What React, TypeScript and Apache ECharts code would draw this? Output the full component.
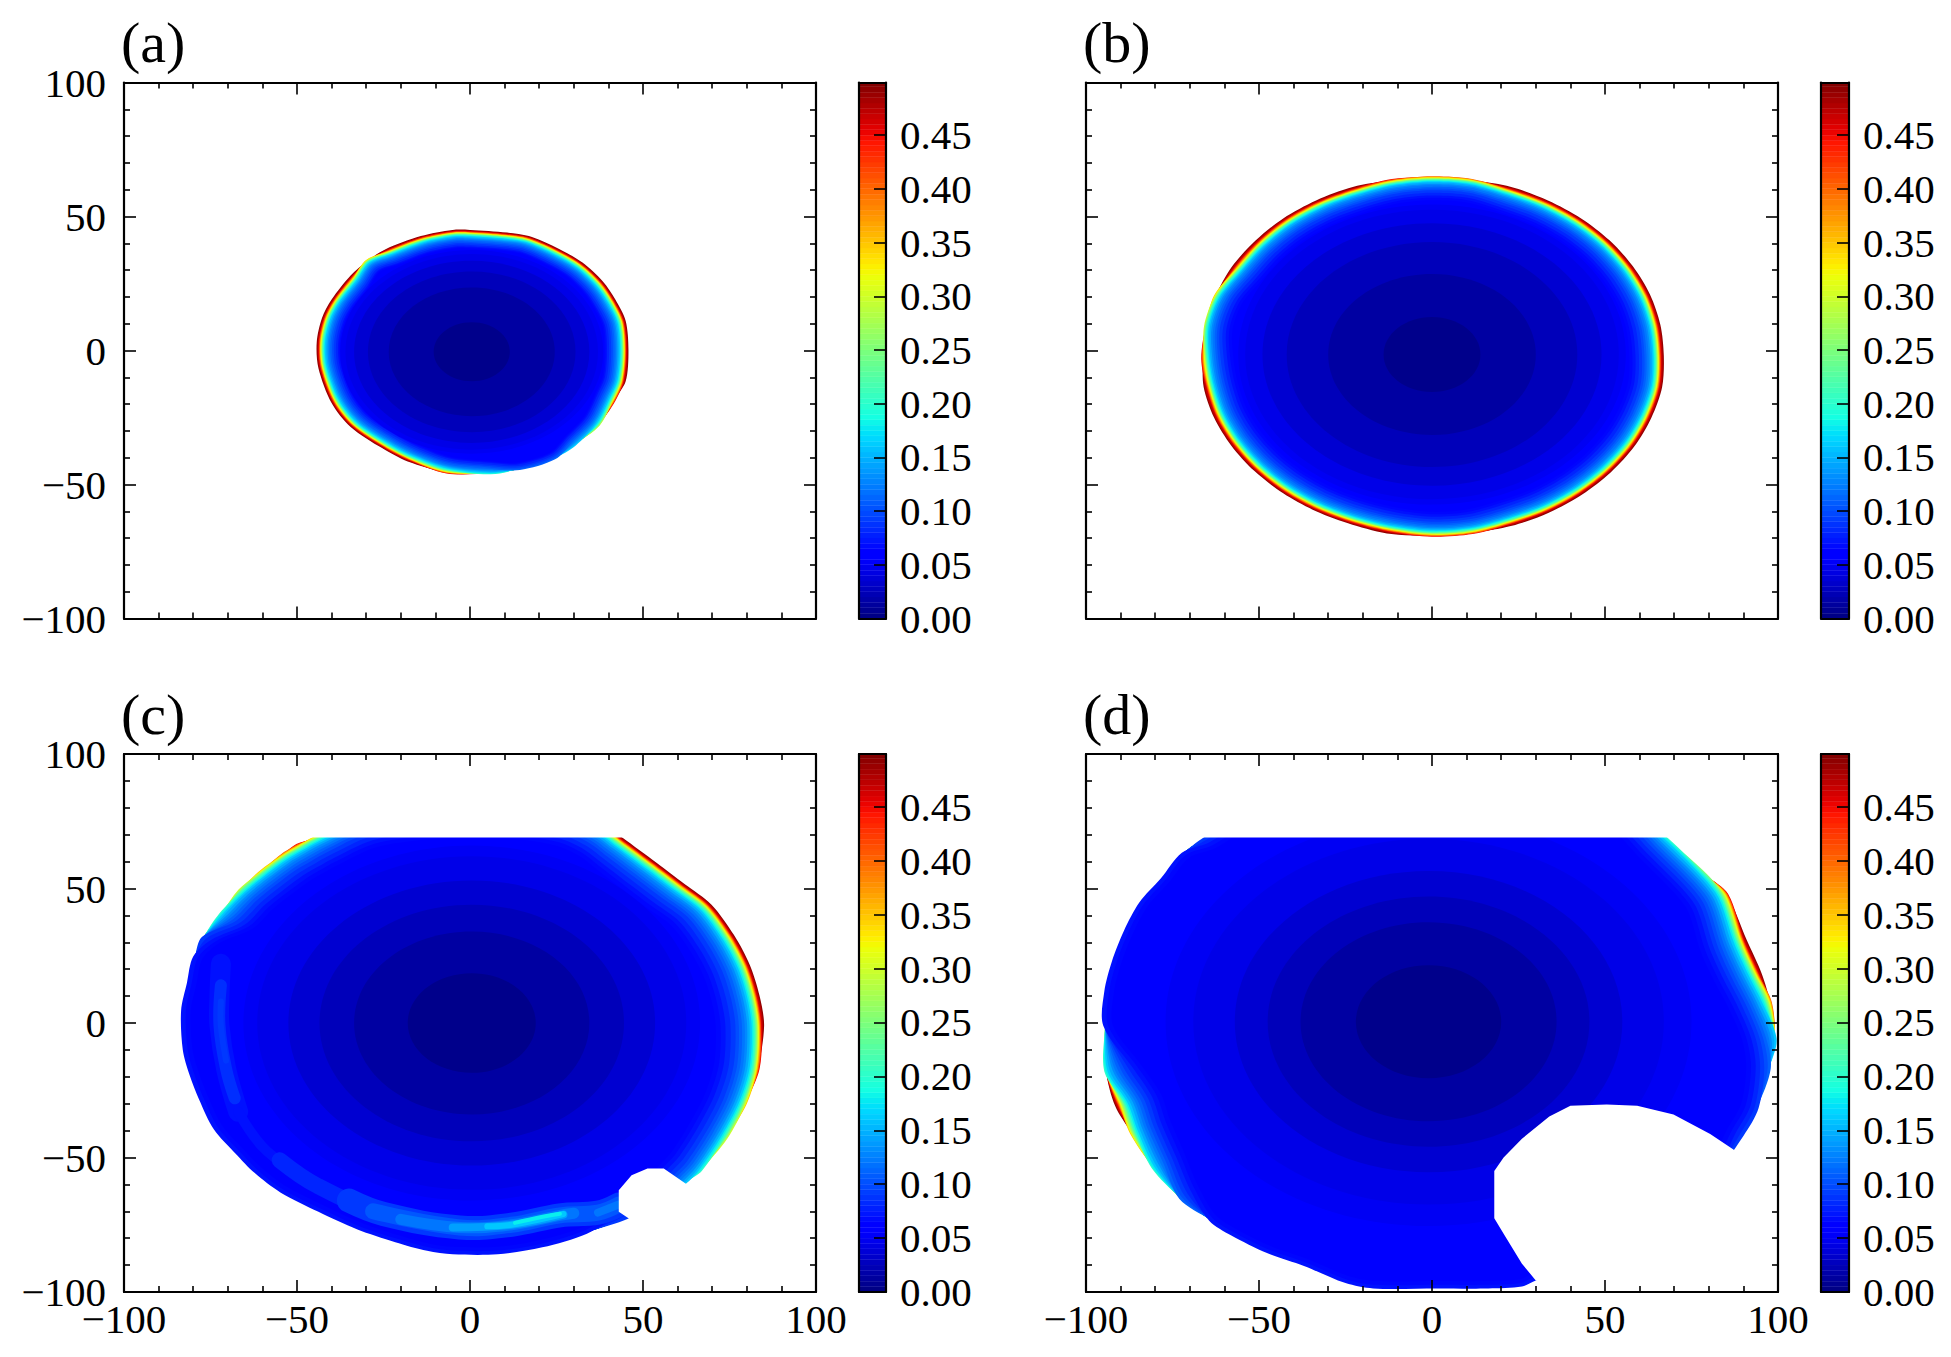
import React, { useEffect, useRef } from "react";
import * as echarts from "echarts";

// ---- tick values and panel names ----
const panelNames = ["(a)", "(b)", "(c)", "(d)"];
const cbarTicks = [0, 0.05, 0.1, 0.15, 0.2, 0.25, 0.3, 0.35, 0.4, 0.45];
const cbarMax = 0.499;
const cbarBinStep = 0.005;

// contour levels of the edge band, highest first
const levels = [0.49, 0.47, 0.45, 0.42, 0.4, 0.37, 0.35, 0.32, 0.3, 0.27, 0.25, 0.22, 0.2, 0.18, 0.16, 0.145, 0.13, 0.12, 0.11, 0.1, 0.09, 0.08, 0.07, 0.065, 0.06];
// distance inward from a fully red edge at which each level sits (data units), per panel
const insetA = [0, 0.3, 0.55, 0.7, 0.8, 0.95, 1.05, 1.15, 1.3, 1.45, 1.55, 1.75, 1.9, 2.15, 2.4, 2.8, 3.2, 3.6, 4, 4.5, 5, 5.6, 6.2, 6.6, 7];
const insetB = [0, 0.35, 0.7, 0.9, 1.05, 1.2, 1.35, 1.5, 1.65, 1.85, 2, 2.2, 2.4, 2.7, 3, 3.4, 3.9, 4.4, 5, 5.6, 6.3, 7.2, 8.2, 9.1, 10];
const insetC = [0, 0.35, 0.7, 0.9, 1.05, 1.2, 1.35, 1.55, 1.7, 1.95, 2.15, 2.45, 2.75, 3.15, 3.6, 4.2, 4.9, 5.6, 6.4, 7.3, 8.3, 9.7, 11.2, 12.6, 14];
const insetD = [0, 0.35, 0.7, 0.9, 1.05, 1.2, 1.35, 1.55, 1.75, 2, 2.25, 2.6, 2.9, 3.3, 3.8, 4.5, 5.3, 6, 6.8, 7.7, 8.7, 9.9, 11.2, 12.6, 14];

// field boundary [x, y, value at the edge], clockwise
const boundaryA = [
  [0, 45, 0.49], [10.7, 44, 0.49], [17, 42.7, 0.49], [24.6, 38.6, 0.49], [32.5, 32.8, 0.49], [38.4, 25.7, 0.49],
  [42, 19, 0.49], [45, 11, 0.49], [45.8, 0, 0.49], [45, -11.5, 0.49], [42, -18.8, 0.45], [37.5, -28, 0.3],
  [30.5, -35.5, 0.16], [24.6, -40.6, 0.11], [14.4, -44.6, 0.11], [6, -46.2, 0.2], [-6.8, -45.9, 0.45],
  [-18, -41.4, 0.49], [-25.3, -36.5, 0.49], [-34.5, -28.5, 0.49], [-40, -19.6, 0.49], [-43.8, -6.6, 0.49],
  [-44.3, 3, 0.49], [-42.8, 12, 0.49], [-40, 19, 0.49], [-34.5, 28, 0.49], [-30, 33.8, 0.35], [-24.4, 37.8, 0.49],
  [-14.2, 42.7, 0.49], [-5, 45, 0.49],
];
const boundaryB = [
  [0, 65, 0.4], [11.6, 64, 0.4], [22.9, 61, 0.49], [33.5, 56, 0.49], [43.1, 49.3, 0.49], [51.3, 41.1, 0.49],
  [58, 31.5, 0.49], [63, 20.9, 0.49], [66, 9.6, 0.49], [67, -2, 0.49], [66.5, -13.7, 0.49], [63.4, -25.1, 0.49],
  [58.5, -35.75, 0.49], [51.7, -45.4, 0.49], [43.4, -53.7, 0.49], [33.75, -60.5, 0.49], [23.1, -65.4, 0.49],
  [11.7, -68.5, 0.45], [0, -69.5, 0.45], [-11.7, -68.5, 0.49], [-23, -65, 0.49], [-33.5, -60, 0.49], [-43, -53.3, 0.49],
  [-51.3, -45, 0.49], [-58, -35.5, 0.49], [-63, -25, 0.49], [-66, -13.6, 0.49], [-66.7, -3, 0.45], [-65.9, 9, 0.3],
  [-63, 20.5, 0.35], [-57.8, 31.3, 0.49], [-51, 41, 0.49], [-43, 49.3, 0.49], [-33.5, 56, 0.49], [-22.9, 61, 0.49],
  [-11.6, 64, 0.45],
];
const boundaryC = [
  [1, 83, 0.49], [17, 82, 0.49], [30, 79, 0.49], [38, 74.5, 0.49], [44, 69, 0.49], [54, 59.5, 0.49], [62, 51.7, 0.49], [69.8, 44, 0.49],
  [76.3, 32.7, 0.49], [80.9, 21.5, 0.49], [83.7, 10, 0.49], [85, -1, 0.49], [83.7, -17, 0.45], [80, -30, 0.35],
  [74.4, -42.9, 0.3], [67, -55, 0.2], [62.4, -59.8, 0.16], [54, -68, 0.11], [46, -72.6, 0.09], [33.8, -78.3, 0.07],
  [20.9, -83.4, 0.07], [8, -86, 0.07], [-5, -86, 0.07], [-12.4, -84.7, 0.07], [-21.6, -81.5, 0.07], [-32.7, -76.7, 0.07],
  [-43.8, -70.2, 0.07], [-54.8, -63, 0.07], [-62.2, -55.8, 0.07], [-67.8, -48.5, 0.07], [-74, -39.6, 0.07],
  [-78.3, -28.4, 0.07], [-81, -19.5, 0.07], [-83, -10, 0.07], [-83.5, 4.6, 0.07], [-81.8, 15, 0.07], [-80, 24.7, 0.07],
  [-77.5, 32, 0.09], [-72.4, 40.8, 0.2], [-66.9, 49.6, 0.3], [-61.3, 56, 0.35], [-54.9, 62.5, 0.4], [-50.2, 66.5, 0.45],
  [-45.6, 69, 0.35], [-32, 77, 0.35], [-15, 82, 0.49],
];
const boundaryD = [
  [0, 97, 0.09], [20, 95, 0.09], [40, 90, 0.09], [55, 82, 0.13], [68, 69, 0.2], [79.5, 55.3, 0.25], [85.6, 48, 0.45],
  [90.9, 31, 0.49], [95.3, 18.3, 0.49], [98.2, 7.8, 0.4], [99.6, -5.9, 0.16], [97.9, -17, 0.11], [94.4, -31.6, 0.09],
  [90, -42, 0.09], [80, -60, 0.07], [60, -80, 0.07], [40, -92, 0.07], [30, -95.7, 0.07], [26, -98, 0.07],
  [16.3, -98.7, 0.07], [1.4, -98.7, 0.07], [-17, -98.7, 0.07], [-25, -96.7, 0.07], [-37, -90.3, 0.07], [-47.7, -85.5, 0.07],
  [-58, -79, 0.07], [-64.4, -73.5, 0.07], [-73, -65.4, 0.11], [-81, -54, 0.2], [-87.2, -41.3, 0.35], [-91.6, -30.8, 0.49],
  [-94.7, -18, 0.2], [-95, -1, 0.07], [-94.7, 11.8, 0.07], [-92.5, 23, 0.07], [-89, 34.4, 0.07], [-84.6, 44.8, 0.07],
  [-78.4, 53.7, 0.07], [-72.3, 63.3, 0.07], [-66, 69, 0.09], [-50, 82, 0.09], [-25, 93, 0.09],
];

// centre toward which each boundary's contours close
const centreA = [0.5, -0.5];
const centreB = [0, -2];
const centreC = [1, -1];
const centreD = [0, -1];

// inner circular bands [value, cx, cy, radius], outermost first
const ringsA = [[0.05, 0.5, -0.5, 38], [0.045, 0.5, -0.5, 36.5], [0.035, 0.5, -0.5, 34], [0.025, 0.5, -0.5, 30], [0.015, 0.5, -0.5, 24], [0.005, 0.5, -0.5, 11]];
const ringsB = [[0.05, 0, -1.5, 56], [0.045, 0, -1.5, 54], [0.035, 0, -1.5, 49], [0.025, 0, -1.5, 42], [0.015, 0, -1.5, 30], [0.005, 0, -1.5, 14]];
const ringsC = [[0.05, 0.5, 0, 66], [0.045, 0.5, 0, 62], [0.035, 0.5, 0, 53], [0.025, 0.5, 0, 44], [0.015, 0.5, 0, 34], [0.005, 0.5, 0, 18.5]];
const ringsD = [[0.05, -1, 0.5, 76], [0.045, -1, 0.5, 68], [0.035, -1, 0.5, 56], [0.025, -1, 0.5, 46.5], [0.015, -1, 0.5, 37], [0.005, -1, 0.5, 21]];

// bright ridge in panel (c): value and points of each stroke, painted in this order
const ridgeValuesC = [0.07, 0.085, 0.09, 0.07, 0.08, 0.09, 0.105, 0.12, 0.12, 0.14, 0.16, 0.18];
const ridgePathsC = [
  [[-72, 22], [-72.4, 10], [-72.4, -1], [-70.5, -17], [-67, -33]],
  [[-72, 14], [-72.4, -1], [-70.5, -17], [-68, -28]],
  [[-72, 8], [-72, -1], [-70.5, -14]],
  [[-67, -33], [-60, -46], [-52, -54]],
  [[-55, -51], [-44, -60.6], [-25, -71], [-3, -76], [12, -75], [26, -71.5], [37, -70.5], [43, -67.5]],
  [[-35, -66], [-25, -71], [-3, -76], [12, -75], [26, -71.5], [37, -70.5], [43, -67.5]],
  [[-28, -70], [-3, -76], [12, -75], [26, -71.5], [37, -70.5], [43, -67.5]],
  [[-20, -73], [-3, -76], [12, -75], [26, -71.5], [30, -70.7]],
  [[37, -70.5], [43, -67.5]],
  [[-5, -76], [12, -75], [27, -71.2]],
  [[5, -75.6], [12, -75], [27, -71]],
  [[13, -74.3], [21, -72], [26, -70.9]],
];
const ridgeWidthsC = [20, 12, 6, 10, 16, 24, 16, 11, 8, 8, 6, 4];

// white areas where the field has no data
const masksC = [
  [[-100, 69], [100, 69], [100, 100], [-100, 100]],
  [[45.8, -72.6], [43, -70.2], [43, -62.2], [46.7, -56.6], [51.3, -54.1], [56, -54.1], [62.4, -59.8], [66, -64], [60, -80], [50, -80]],
];
const masksD = [
  [[-100, 69], [100, 69], [100, 100], [-100, 100]],
  [[30, -95.7], [26, -89.5], [20.7, -78.3], [18, -72.6], [18, -55], [20.7, -50], [26, -43], [33.9, -34.8], [40, -30.8], [50.5, -30.3], [59.3, -30.8], [69.8, -34], [80.4, -41.3], [87, -46.9], [100, -60], [100, -100], [40, -100]],
];

// ---- jet colour map ----
const jetR = [[0, 0], [0.35, 0], [0.66, 1], [0.89, 1], [1, 0.5]];
const jetG = [[0, 0], [0.125, 0], [0.375, 1], [0.64, 1], [0.91, 0], [1, 0]];
const jetB = [[0, 0.5], [0.11, 1], [0.34, 1], [0.65, 0], [1, 0]];
function lerpStops(stops: number[][], x: number) {
  for (let i = 1; i < stops.length; i++) {
    if (x <= stops[i][0]) {
      const [x0, y0] = stops[i - 1];
      const [x1, y1] = stops[i];
      return y0 + ((y1 - y0) * (x - x0)) / (x1 - x0);
    }
  }
  return stops[stops.length - 1][1];
}
function jet(v: number) {
  const x = Math.max(0, Math.min(1, v / cbarMax));
  const c = (s: number[][]) => Math.round(255 * lerpStops(s, x));
  return `rgb(${c(jetR)},${c(jetG)},${c(jetB)})`;
}

// ---- turn the read-off tables into drawable contours ----
type Shape =
  | { kind: "poly"; v: number; pts: number[][] }
  | { kind: "ring"; v: number; cx: number; cy: number; r: number }
  | { kind: "line"; v: number; pts: number[][]; w: number }
  | { kind: "mask"; pts: number[][] };

const HIDDEN_INSET = 0.5;

function contours(boundary: number[][], centre: number[], inset: number[], rings: number[][], ridgeValues: number[], ridgePaths: number[][][], ridgeWidths: number[], masks: number[][][]) {
  const shapes: Shape[] = [];
  levels.forEach((v, li) => {
    const pts = boundary.map(([x, y, e]) => {
      let top = levels.findIndex((l) => l <= e + 1e-9);
      if (top < 0) top = levels.length - 1;
      const dx = x - centre[0];
      const dy = y - centre[1];
      const R = Math.hypot(dx, dy);
      const d = li >= top ? inset[li] - inset[top] : HIDDEN_INSET;
      const f = (R - d) / R;
      return [centre[0] + dx * f, centre[1] + dy * f];
    });
    shapes.push({ kind: "poly", v, pts });
  });
  rings.forEach(([v, cx, cy, r]) => shapes.push({ kind: "ring", v, cx, cy, r }));
  ridgePaths.forEach((pts, i) => shapes.push({ kind: "line", v: ridgeValues[i], pts, w: ridgeWidths[i] }));
  masks.forEach((pts) => shapes.push({ kind: "mask", pts }));
  return shapes;
}

const panelShapes = [
  contours(boundaryA, centreA, insetA, ringsA, [], [], [], []),
  contours(boundaryB, centreB, insetB, ringsB, [], [], [], []),
  contours(boundaryC, centreC, insetC, ringsC, ridgeValuesC, ridgePathsC, ridgeWidthsC, masksC),
  contours(boundaryD, centreD, insetD, ringsD, [], [], [], masksD),
];

// ---- layout in pixels ----
const mainX = [[124, 816], [1086, 1778]];
const cbarX = [[859, 886], [1821, 1849]];
const rowY = [[82.5, 618.5], [754, 1292]];
const FONT = "'Liberation Serif', serif";
const LABEL = 41;
const TICK = 1.6;
const SPINE = 2.2;

const fmtMain = (v: number) => (v < 0 ? "\u2212" + Math.abs(v) : String(v));

function buildOption() {
  const grid: any[] = [];
  const xAxis: any[] = [];
  const yAxis: any[] = [];
  const series: any[] = [];
  const title: any[] = [];

  const line = { show: true, onZero: false, lineStyle: { color: "#000", width: SPINE } };
  const tickStyle = { color: "#000", width: TICK };

  panelNames.forEach((name, p) => {
    const col = p % 2;
    const row = p < 2 ? 0 : 1;
    const [l, r] = mainX[col];
    const [t, b] = rowY[row];
    const gMain = grid.length;
    grid.push({ left: l, top: t, width: r - l, height: b - t });
    const axisBase = {
      type: "value",
      min: -100,
      max: 100,
      interval: 50,
      gridIndex: gMain,
      z: 6,
      axisLine: line,
      axisTick: { show: true, inside: true, length: 12, lineStyle: tickStyle },
      minorTick: { show: true, splitNumber: 5, length: 6, lineStyle: tickStyle },
      splitLine: { show: false },
      minorSplitLine: { show: false },
    };
    const labelStyle = { fontFamily: FONT, fontSize: LABEL, lineHeight: 26, color: "#000", formatter: fmtMain, showMinLabel: true, showMaxLabel: true };
    const xIdx = xAxis.length;
    xAxis.push({ ...axisBase, position: "bottom", axisLabel: { ...labelStyle, show: row === 1, margin: 13.5 } });
    xAxis.push({ ...axisBase, position: "top", axisLabel: { show: false } });
    const yIdx = yAxis.length;
    yAxis.push({ ...axisBase, position: "left", axisLabel: { ...labelStyle, show: col === 0, margin: 18 } });
    yAxis.push({ ...axisBase, position: "right", axisLabel: { show: false } });

    const shapes = panelShapes[p];
    series.push({
      type: "custom",
      name,
      xAxisIndex: xIdx,
      yAxisIndex: yIdx,
      coordinateSystem: "cartesian2d",
      clip: true,
      silent: true,
      z: 2,
      encode: { x: 0, y: 1 },
      data: shapes.map((_, i) => [0, 0, i]),
      renderItem: (params: any, api: any) => {
        const s = shapes[params.dataIndex];
        if (s.kind === "ring") {
          const c = api.coord([s.cx, s.cy]);
          const sz = api.size([s.r, s.r]);
          return { type: "ellipse", shape: { cx: c[0], cy: c[1], rx: sz[0], ry: sz[1] }, style: { fill: jet(s.v) } };
        }
        if (s.kind === "line") {
          return {
            type: "polyline",
            shape: { points: s.pts.map((q) => api.coord(q)), smooth: 0.4 },
            style: { stroke: jet(s.v), fill: "none", lineWidth: s.w, lineCap: "round", lineJoin: "round" },
          };
        }
        if (s.kind === "mask") {
          return { type: "polygon", shape: { points: s.pts.map((q) => api.coord(q)) }, style: { fill: "#fff" } };
        }
        return { type: "polygon", shape: { points: s.pts.map((q) => api.coord(q)), smooth: 0.3 }, style: { fill: jet(s.v) } };
      },
    });

    // colour bar
    const [cl, cr] = cbarX[col];
    const gBar = grid.length;
    grid.push({ left: cl, top: t, width: cr - cl, height: b - t });
    const cbx = { type: "value", min: 0, max: 1, gridIndex: gBar, z: 6, axisLine: line, axisTick: { show: false }, axisLabel: { show: false }, splitLine: { show: false } };
    const cxIdx = xAxis.length;
    xAxis.push({ ...cbx, position: "bottom" });
    xAxis.push({ ...cbx, position: "top" });
    const cyIdx = yAxis.length;
    const cby = { type: "value", min: 0, max: cbarMax, gridIndex: gBar, z: 6, axisLine: line, splitLine: { show: false } };
    yAxis.push({ ...cby, position: "left", axisTick: { show: false }, axisLabel: { show: false } });
    yAxis.push({
      ...cby,
      position: "right",
      axisTick: { show: true, inside: true, length: 12, lineStyle: tickStyle, customValues: cbarTicks },
      axisLabel: {
        show: true,
        customValues: cbarTicks,
        margin: 14,
        fontFamily: FONT,
        fontSize: LABEL,
        color: "#000",
        formatter: (v: number) => v.toFixed(2),
      },
    });
    const bins = Array.from({ length: Math.ceil(cbarMax / cbarBinStep) }, (_, i) => i * cbarBinStep);
    series.push({
      type: "custom",
      name: name + " colour bar",
      xAxisIndex: cxIdx,
      yAxisIndex: cyIdx + 1,
      coordinateSystem: "cartesian2d",
      clip: true,
      silent: true,
      z: 2,
      encode: { x: 0, y: 1 },
      data: bins.map((v) => [0, v]),
      renderItem: (_: any, api: any) => {
        const v0 = api.value(1);
        const v1 = Math.min(v0 + cbarBinStep, cbarMax);
        const a = api.coord([0, v1]);
        const c = api.coord([1, v0]);
        const fill = jet(v0 + cbarBinStep / 2);
        return { type: "rect", shape: { x: a[0], y: a[1], width: c[0] - a[0], height: c[1] - a[1] }, style: { fill, stroke: fill, lineWidth: 0.4 } };
      },
    });

    title.push({
      text: name,
      left: l - 8,
      top: t - 74,
      textStyle: { fontFamily: FONT, fontSize: 58, fontWeight: "normal", color: "#000" },
    });
  });

  return { animation: false, backgroundColor: "#fff", title, grid, xAxis, yAxis, series };
}

export default function App() {
  const ref = useRef<HTMLDivElement>(null);
  useEffect(() => {
    const chart = echarts.init(ref.current!, undefined, { renderer: "svg" });
    chart.setOption(buildOption() as any);
    return () => chart.dispose();
  }, []);
  return <div ref={ref} style={{ position: "absolute", left: 0, top: 0, width: 1951, height: 1357 }} />;
}
